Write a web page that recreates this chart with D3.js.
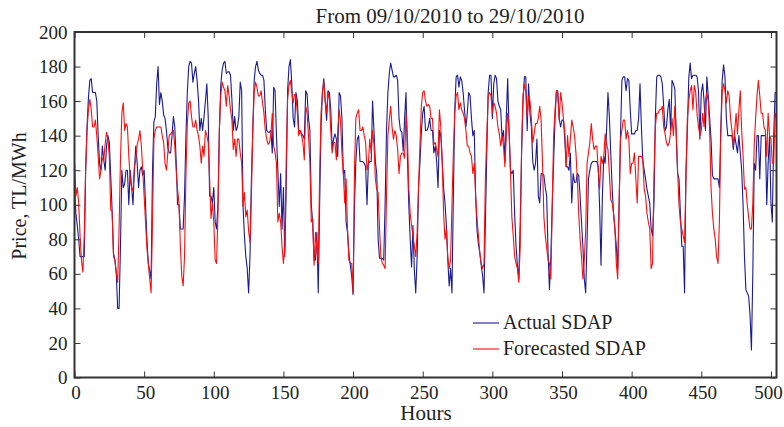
<html>
<head>
<style>
  body { margin: 0; background: #fff; }
  svg text { font-family: "Liberation Serif", "DejaVu Serif", serif; fill: #222; }
  .axis path { display: none; }
  .axis line { stroke: #333; }
</style>
</head>
<body>
<svg id="chart" width="784" height="427"></svg>
<script src="https://cdn.jsdelivr.net/npm/d3@7"></script>
<script>
// hourly prices, hour 0 .. 504
var actual = [
  110,95,88,80,70,70,70,70,120,145,162,172,173,165,165,165,160,140,124,120,134,126,120,134,
  140,136,117,97,72,68,60,40,40,76,120,110,112,120,120,100,120,110,100,120,134,124,110,120,
  122,117,120,100,80,66,62,57,120,148,151,170,180,158,165,160,152,150,143,133,130,130,140,151,
  145,125,100,100,86,86,86,105,140,165,180,183,182,171,176,180,172,161,143,150,143,151,160,170,
  151,105,105,101,110,90,86,100,143,169,178,182,183,176,177,177,175,161,143,151,143,145,151,171,
  166,99,82,70,63,49,70,115,143,172,180,183,178,176,175,175,172,155,143,142,142,143,130,168,
  166,140,120,99,118,86,110,70,110,166,180,184,170,150,145,165,160,143,143,141,140,138,166,164,
  150,143,100,90,68,68,84,49,100,145,165,173,160,149,166,165,155,132,138,141,138,128,165,163,
  150,118,120,90,84,72,65,59,48,100,125,138,140,125,125,125,124,122,100,124,125,125,160,143,
  125,118,80,69,69,69,68,100,143,165,176,182,178,174,174,175,172,150,143,142,131,150,165,128,
  100,80,64,88,62,49,70,110,124,142,153,157,143,143,145,150,143,143,130,134,125,110,143,140,
  125,110,101,88,68,53,63,49,105,155,174,175,168,174,172,165,155,145,153,165,163,150,140,143,
  105,85,77,72,65,59,49,90,130,165,175,175,150,170,175,173,160,157,155,138,143,125,150,173,
  143,120,118,120,95,76,65,57,90,130,160,174,174,143,170,153,145,125,120,124,138,105,101,118,
  118,117,110,105,72,51,70,100,125,150,166,166,150,145,149,149,138,122,122,120,130,101,118,113,
  113,118,117,105,90,76,57,49,80,115,120,124,125,125,125,125,122,99,65,105,128,124,143,165,
  151,130,110,95,86,76,63,100,140,172,174,174,166,173,172,155,141,141,141,143,143,150,170,145,
  126,120,115,109,105,101,86,82,100,150,174,175,175,174,170,157,143,145,155,161,143,172,170,167,
  140,118,115,95,76,76,49,120,143,173,182,173,175,175,175,174,166,138,165,170,160,143,174,163,
  150,138,117,115,115,115,115,110,143,172,181,174,150,140,140,140,140,132,140,135,130,140,130,120,
  100,70,51,49,47,36,16,60,124,120,140,140,115,140,140,140,140,100,124,140,101,90,140,165,165
];
var forecast = [
  125,105,110,101,82,68,61,82,120,143,155,161,155,145,145,149,140,128,115,120,127,126,135,142,
  138,128,97,96,70,68,61,55,86,126,153,159,143,147,145,128,115,110,108,122,126,135,138,143,
  134,120,105,90,75,66,57,49,90,138,143,145,145,145,145,140,136,124,120,130,140,141,142,143,
  134,120,109,101,76,59,53,70,118,147,159,160,151,145,145,149,143,140,134,124,134,128,143,140,
  136,115,92,101,90,68,66,95,143,163,171,168,166,157,169,163,155,149,132,138,128,138,138,130,
  124,99,107,93,97,85,78,105,143,165,171,168,163,163,166,159,153,143,138,135,136,141,153,134,
  130,124,90,95,90,76,66,76,126,161,169,172,165,159,164,163,153,140,143,140,136,126,157,153,
  140,124,90,92,65,84,75,66,118,153,165,171,160,153,165,161,143,130,136,136,126,143,155,148,
  130,118,101,115,86,68,66,66,49,120,150,153,155,143,143,145,140,136,120,124,138,130,143,135,
  115,109,107,86,70,66,65,63,105,140,149,157,145,138,143,140,132,118,128,130,130,127,153,140,
  110,95,88,82,76,70,84,110,134,157,165,166,160,157,158,157,150,150,135,136,132,128,155,145,
  125,95,80,86,70,63,68,100,130,153,163,165,155,159,155,153,150,143,134,134,130,128,118,124,
  105,92,82,72,66,63,66,115,140,163,165,163,153,159,157,153,145,141,134,140,134,122,140,153,
  143,120,93,82,70,66,63,55,76,134,163,170,165,151,163,160,150,136,141,147,147,150,157,149,
  124,93,82,75,68,66,57,100,140,155,166,163,149,165,159,150,143,122,140,128,138,149,145,140,
  130,115,95,80,70,57,68,85,124,130,136,147,138,132,134,134,120,109,128,124,128,141,135,132,
  118,103,101,95,86,66,57,100,138,143,149,149,138,143,138,118,124,124,130,115,101,128,128,128,
  126,109,105,95,90,86,63,66,115,145,153,153,155,155,157,145,141,136,134,136,142,150,140,157,
  143,120,100,90,86,82,78,115,150,160,166,169,155,169,165,152,145,140,143,153,145,160,165,160,
  143,110,95,86,80,70,66,90,140,165,170,166,159,166,163,150,143,134,143,153,141,155,166,143,
  128,109,110,100,93,86,86,101,134,150,163,172,163,153,153,145,143,128,153,140,138,124,124,153,150
];
var hours = d3.range(actual.length);
var xTicks = [0, 50, 100, 150, 200, 250, 300, 350, 400, 450, 500];
var yTicks = [0, 20, 40, 60, 80, 100, 120, 140, 160, 180, 200];
var seriesNames = ["Actual SDAP", "Forecasted SDAP"];
var seriesColors = ["#1a1a94", "#ff0d0d"];

var svg = d3.select('#chart');
var plotLeft = 74.5, plotRight = 776.5, plotTop = 32, plotBottom = 377.5;

var x = d3.scaleLinear().domain([0, 504]).range([plotLeft, plotRight]);
var y = d3.scaleLinear().domain([0, 200]).range([plotBottom, plotTop]);

var line = d3.line()
  .x(function(d, i) { return x(hours[i]); })
  .y(function(d) { return y(d); });

var plot = svg.append('g');
[actual, forecast].forEach(function(s, k) {
  plot.append('path')
    .datum(s)
    .attr('fill', 'none')
    .attr('stroke', seriesColors[k])
    .attr('stroke-width', 1.1)
    .attr('stroke-linejoin', 'round')
    .attr('d', line);
});

// axes with inward ticks
svg.append('g').attr('class', 'axis')
  .attr('transform', 'translate(0,' + plotBottom + ')')
  .call(d3.axisBottom(x).tickValues(xTicks).tickSize(-6).tickPadding(8))
  .selectAll('text').style('font-size', '19px')
  .attr('dx', function(d) { return d === 500 ? -3 : 1; });
svg.append('g').attr('class', 'axis')
  .attr('transform', 'translate(0,' + plotTop + ')')
  .call(d3.axisTop(x).tickValues(xTicks).tickSize(-6).tickFormat(''));
svg.append('g').attr('class', 'axis')
  .attr('transform', 'translate(' + plotLeft + ',0)')
  .call(d3.axisLeft(y).tickValues(yTicks).tickSize(-6).tickPadding(7))
  .selectAll('text').style('font-size', '19px');
svg.append('g').attr('class', 'axis')
  .attr('transform', 'translate(' + plotRight + ',0)')
  .call(d3.axisRight(y).tickValues(yTicks).tickSize(-6).tickFormat(''));

svg.append('rect')
  .attr('x', plotLeft).attr('y', plotTop)
  .attr('width', plotRight - plotLeft).attr('height', plotBottom - plotTop)
  .attr('fill', 'none').attr('stroke', '#333').attr('stroke-width', 2);

svg.append('text')
  .attr('x', 450).attr('y', 23)
  .attr('text-anchor', 'middle')
  .style('font-size', '21px')
  .text('From 09/10/2010 to 29/10/2010');

svg.append('text')
  .attr('x', 426).attr('y', 420)
  .attr('text-anchor', 'middle')
  .style('font-size', '21px')
  .text('Hours');

svg.append('text')
  .attr('transform', 'translate(26,196) rotate(-90)')
  .attr('text-anchor', 'middle')
  .style('font-size', '20px')
  .text('Price, TL/MWh');

// legend
var legend = svg.append('g');
seriesNames.forEach(function(name, k) {
  var ly = 323 + k * 26;
  legend.append('line')
    .attr('x1', 473).attr('x2', 499)
    .attr('y1', ly).attr('y2', ly)
    .attr('stroke', seriesColors[k]).attr('stroke-width', 1.1);
  legend.append('text')
    .attr('x', 503).attr('y', ly + 6)
    .style('font-size', '20px')
    .text(name);
});
</script>
</body>
</html>
